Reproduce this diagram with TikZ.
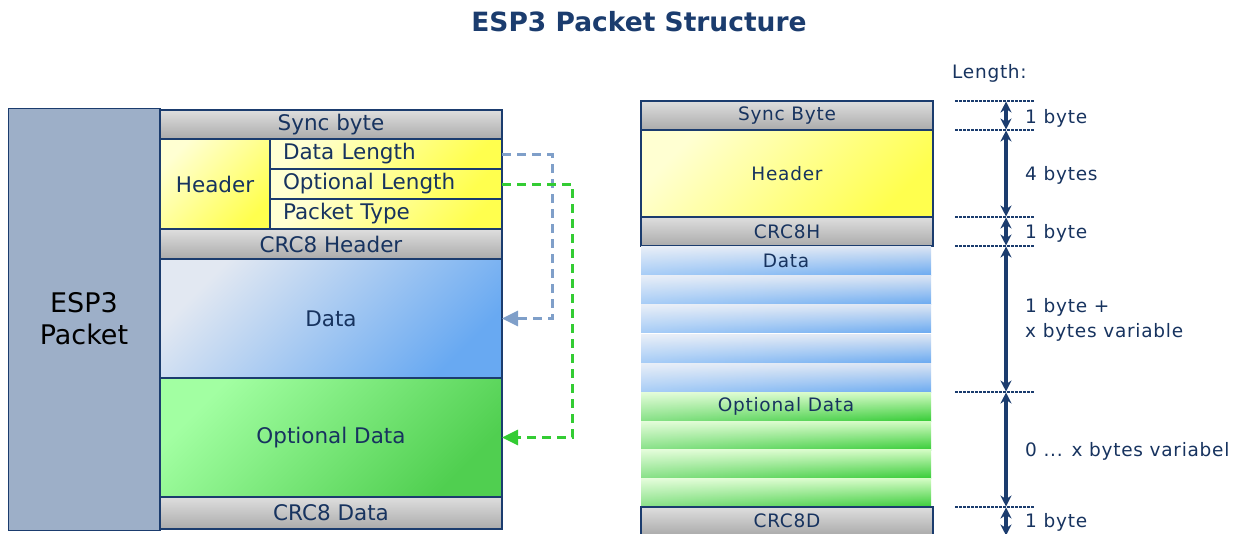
\documentclass[tikz,border=0pt]{standalone}
\usepackage{fontspec}
\setmainfont{DejaVu Sans}
\newfontfamily\rfont[LetterSpace=4]{DejaVu Sans}
\usetikzlibrary{arrows.meta,fadings}
\definecolor{navy}{HTML}{1B3C6E}
\definecolor{txt}{HTML}{17335F}
\definecolor{pkt}{HTML}{9DAFC8}
\definecolor{greyA}{HTML}{DEDEDE}
\definecolor{greyB}{HTML}{ABABAB}
\definecolor{yelA}{HTML}{FFFFD2}
\definecolor{yelB}{HTML}{FFFF4E}
\definecolor{bluA}{HTML}{E2E8F2}
\definecolor{bluB}{HTML}{68A9F2}
\definecolor{grnA}{HTML}{A2FFA2}
\definecolor{grnB}{HTML}{50CF50}
\definecolor{rbluA}{HTML}{DCE5F3}
\definecolor{rbluB}{HTML}{6CABF1}
\definecolor{rgrnA}{HTML}{D4FCC4}
\definecolor{rgrnB}{HTML}{36CC36}
\definecolor{arrB}{HTML}{7F9FC9}
\definecolor{arrG}{HTML}{33CC33}
\tikzset{
  cell/.style={draw=navy, line width=1.2pt, inner sep=0pt, outer sep=0pt, text=txt, font=\fontsize{21.5}{24}\selectfont},
  greycell/.style={cell, top color=greyA, bottom color=greyB},
  yelcell/.style={cell, top color=yelA, bottom color=yelB, shading angle=45},
  blucell/.style={cell, top color=bluA, bottom color=bluB, shading angle=45},
  grncell/.style={cell, top color=grnA, bottom color=grnB, shading angle=45},
  rcell/.style={draw=navy, line width=1.6pt, inner sep=0pt, outer sep=0pt, text=txt, font=\rfont\fontsize{18.5}{21}\selectfont},
  rgrey/.style={rcell, top color=greyA, bottom color=greyB},
  ryel/.style={rcell, top color=yelA, bottom color=yelB, shading angle=45},
  rblue/.style={inner sep=0pt, outer sep=0pt, text=txt, font=\rfont\fontsize{18.5}{21}\selectfont, top color=rbluA, bottom color=rbluB},
  rgreen/.style={inner sep=0pt, outer sep=0pt, text=txt, font=\rfont\fontsize{18.5}{21}\selectfont, top color=rgrnA, bottom color=rgrnB},
  dashref/.style={navy, line width=1.6pt, dash pattern=on 3pt off 1pt},
  meas/.style={navy, line width=3.4pt, {Stealth[length=11pt,width=11pt]}-{Stealth[length=11pt,width=11pt]}, shorten <=0.5pt, shorten >=0.5pt},
  lbl/.style={text=txt, font=\rfont\fontsize{18.5}{25}\selectfont, anchor=west, inner sep=0pt},
  bluedash/.style={arrB, line width=3pt, dash pattern=on 9pt off 6pt, -{Triangle[length=16pt,width=15pt]}},
  grndash/.style={arrG, line width=3pt, dash pattern=on 9pt off 6pt, -{Triangle[length=16pt,width=15pt]}},
  sheen/.style={fill=white, fill opacity=0.4, path fading=east},
}
\begin{document}
\begin{tikzpicture}[x=1pt,y=-1pt]
\useasboundingbox (0,0) rectangle (1252,533);
% title
\node[text=navy, font=\fontsize{26.5}{30}\selectfont\bfseries] (title) at (639,22) {ESP3 Packet Structure};
% left structure
\node[draw=navy, line width=0.8pt, fill=pkt, inner sep=0pt, minimum width=152pt, minimum height=422pt, text=black, font=\fontsize{27}{32}\selectfont, align=center] (esp) at (84,319) {ESP3\\Packet};
\node[greycell, minimum width=342pt, minimum height=29pt] (sync) at (331,124.5) {Sync byte};
\node[yelcell, minimum width=110pt, minimum height=90pt] (hdr) at (215,184) {Header};
\node[yelcell, minimum width=232pt, minimum height=30pt, text width=206pt, align=left] (dlen) at (386,154) {Data Length};
\node[yelcell, minimum width=232pt, minimum height=30pt, text width=206pt, align=left] (olen) at (386,184) {Optional Length};
\node[yelcell, minimum width=232pt, minimum height=30pt, text width=206pt, align=left] (ptype) at (386,214) {Packet Type};
\node[greycell, minimum width=342pt, minimum height=30pt] (crch) at (331,244) {CRC8 Header};
\node[blucell, minimum width=342pt, minimum height=119pt] (data) at (331,318.5) {Data};
\node[grncell, minimum width=342pt, minimum height=119pt] (opt) at (331,437.5) {Optional Data};
\node[greycell, minimum width=342pt, minimum height=32pt] (crcd) at (331,513) {CRC8 Data};
% dashed links
\draw[bluedash] (dlen.east) -- ++(50,0) |- (data.east);
\draw[grndash] (olen.east) -- ++(70,0) |- (opt.east);
% right structure
\node[rgrey, minimum width=292pt, minimum height=29pt] (rsync) at (787,115.5) {Sync Byte};
\node[ryel, minimum width=292pt, minimum height=87pt] (rhdr) at (787,173.5) {Header};
\node[rgrey, minimum width=292pt, minimum height=29pt] (rcrch) at (787,231.5) {CRC8H};
\node[rblue, minimum width=290pt, minimum height=29pt] (d1) at (786,260.5) {};
\node[rblue, minimum width=290pt, minimum height=29pt] (d2) at (786,289.5) {};
\node[rblue, minimum width=290pt, minimum height=28pt] (d3) at (786,318.5) {};
\node[rblue, minimum width=290pt, minimum height=28pt] (d4) at (786,348.5) {};
\node[rblue, minimum width=290pt, minimum height=29pt] (d5) at (786,377.5) {};
\node[rgreen, minimum width=290pt, minimum height=29pt] (g1) at (786,406.5) {};
\node[rgreen, minimum width=290pt, minimum height=29pt] (g2) at (786,435.5) {};
\node[rgreen, minimum width=290pt, minimum height=29pt] (g3) at (786,464) {};
\node[rgreen, minimum width=290pt, minimum height=29pt] (g4) at (786,493) {};
\fill[sheen] (d1.north west) rectangle (d5.south east);
\fill[sheen] (g1.north west) rectangle (g4.south east);
\node[text=txt, font=\rfont\fontsize{18.5}{21}\selectfont, inner sep=0pt] (dlbl) at (d1) {Data};
\node[text=txt, font=\rfont\fontsize{18.5}{21}\selectfont, inner sep=0pt] (glbl) at (g1) {Optional Data};
\node[rgrey, minimum width=292pt, minimum height=28pt, anchor=north] (rcrcd) at (787,507) {CRC8D};
% length scale
\node[lbl] (lenlbl) at (952,73) {Length:};
\coordinate (m0) at (1006,101);
\coordinate (m1) at (1006,130);
\coordinate (m2) at (1006,217);
\coordinate (m3) at (1006,246);
\coordinate (m4) at (1006,392);
\coordinate (m5) at (1006,507);
\coordinate (m6) at (1006,536);
\foreach \m in {m0,m1,m2,m3,m4,m5}{
  \draw[dashref] ([xshift=-51pt]\m) -- ([xshift=29pt]\m);
}
\draw[meas] (m0) -- (m1);
\draw[meas] (m1) -- (m2);
\draw[meas] (m2) -- (m3);
\draw[meas] (m3) -- (m4);
\draw[meas] (m4) -- (m5);
\draw[meas] (m5) -- (m6);
\node[lbl] (l1) at (1025,118) {1 byte};
\node[lbl] (l2) at (1025,175) {4 bytes};
\node[lbl] (l3) at (1025,233) {1 byte};
\node[lbl, align=left] (l4) at (1025,319.5) {1 byte +\\x bytes variable};
\node[lbl] (l5) at (1025,451) {0 ... x bytes variabel};
\node[lbl] (l6) at (1025,522) {1 byte};
\end{tikzpicture}
\end{document}
